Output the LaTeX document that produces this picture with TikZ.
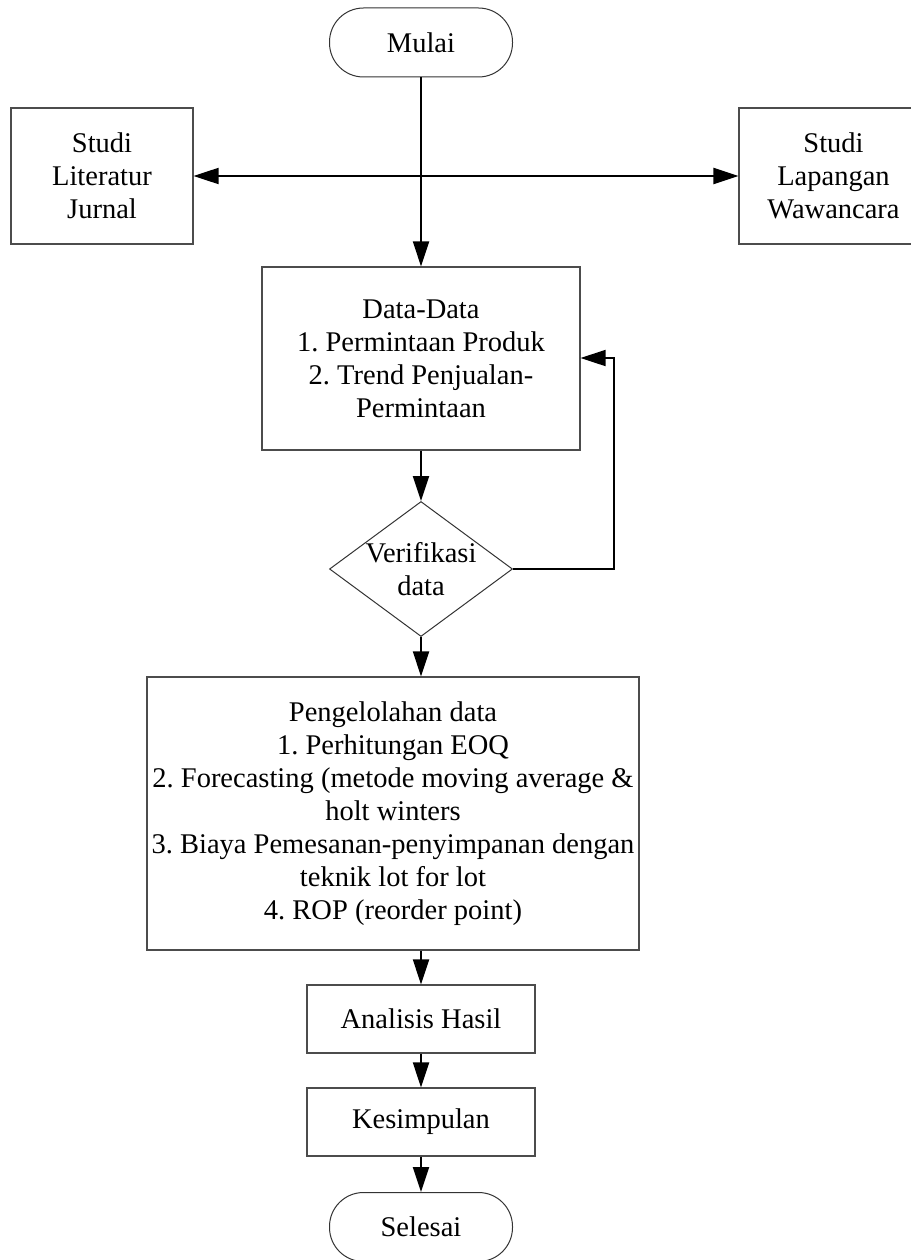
\documentclass[tikz,border=0pt]{standalone}
\usepackage{fontspec}
\setmainfont{Liberation Serif}
\usetikzlibrary{arrows.meta,shapes.geometric}
\frenchspacing
\begin{document}
\begin{tikzpicture}[x=1pt,y=-1pt,
  txt/.style={font=\fontsize{28.5pt}{33pt}\selectfont\frenchspacing, align=center, inner sep=0pt},
  proc/.style={txt, draw=black!70, line width=1.2pt, rectangle},
  term/.style={txt, draw=black!80, line width=1pt, rectangle, rounded corners=34pt, minimum width=183pt, minimum height=69pt},
  arr/.style={draw=black, line width=2pt, -{Triangle[length=25pt,width=16pt]}},
  ln/.style={draw=black, line width=2pt}]
\useasboundingbox (0,0) rectangle (910,1260);
\node[term] (start) at (421,42.5) {Mulai};
\node[proc, minimum width=182pt, minimum height=136pt] (lit) at (102,176) {Studi\\Literatur\\Jurnal};
\node[proc, minimum width=189pt, minimum height=136pt] (lap) at (833.5,176) {Studi\\Lapangan\\Wawancara};
\coordinate (hub) at (421,176);
\node[proc, minimum width=318pt, minimum height=183pt] (data) at (421,358.5) {Data-Data\\1. Permintaan Produk\\2. Trend Penjualan-\\Permintaan};
\node[diamond, draw=black!80, line width=1pt, minimum width=183pt, minimum height=135pt, inner sep=0pt] (ver) at (421,569) {};
\node[txt] (vertext) at (ver.center) {Verifikasi\\data};
\node[proc, minimum width=492pt, minimum height=273pt] (olah) at (393,813.5) {Pengelolahan data\\1. Perhitungan EOQ\\2. Forecasting (metode moving average \&\\holt winters\\3. Biaya Pemesanan-penyimpanan dengan\\teknik lot for lot\\4. ROP (reorder point)};
\node[proc, minimum width=228pt, minimum height=68pt] (anal) at (421,1019) {Analisis Hasil};
\node[proc, minimum width=228pt, minimum height=68pt] (kes) at (421,1122) {Kesimpulan};
\node[term] (end) at (421,1227) {Selesai};
\coordinate (fb) at (614,358);
\draw[arr] (start.south) -- (data.north);
\draw[arr] (hub) -- (lit.east);
\draw[arr] (hub) -- (lap.west);
\draw[arr] (data.south) -- (ver.north);
\draw[arr] (ver.east) -| (fb) -- (data.east |- fb);
\draw[arr] (ver.south) -- (ver.south |- olah.north);
\draw[arr] (olah.south -| anal.north) -- (anal.north);
\draw[arr] (anal.south) -- (kes.north);
\draw[arr] (kes.south) -- (end.north);
\end{tikzpicture}
\end{document}
